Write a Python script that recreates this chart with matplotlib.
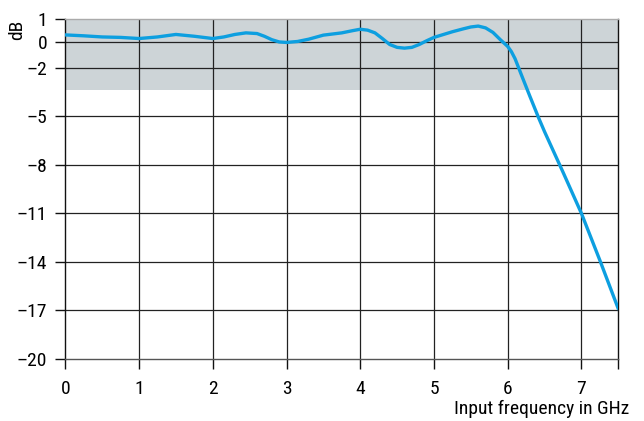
import numpy as np
import matplotlib
matplotlib.use("Agg")
import matplotlib.pyplot as plt

plt.rcParams["font.family"] = ["Liberation Sans Narrow", "Roboto Condensed",
                               "Liberation Sans", "DejaVu Sans"]

# frequency response
freq_ghz = [0.0, 0.25, 0.5, 0.75, 1.0, 1.25, 1.5, 1.75, 2.0, 2.15, 2.3, 2.45,
            2.6, 2.7, 2.8, 2.9, 3.0, 3.15, 3.3, 3.5, 3.75, 3.9, 4.0, 4.1,
            4.2, 4.3, 4.4, 4.5, 4.6, 4.7, 4.8, 4.9, 5.0, 5.25, 5.4, 5.5,
            5.6, 5.7, 5.8, 5.9, 6.0, 6.05, 6.1, 6.2, 6.3, 6.42, 6.5, 6.75,
            7.0, 7.25, 7.5]
gain_db = [0.31, 0.27, 0.22, 0.2, 0.15, 0.22, 0.33, 0.25, 0.15, 0.22, 0.33, 0.4,
           0.37, 0.25, 0.1, 0.0, -0.04, 0.02, 0.12, 0.3, 0.4, 0.5, 0.56, 0.52,
           0.4, 0.15, -0.2, -0.42, -0.48, -0.42, -0.2, 0.05, 0.2, 0.45, 0.58, 0.66,
           0.7, 0.62, 0.42, 0.1, -0.35, -0.75, -1.3, -2.6, -3.75, -5.1, -5.95, -8.45,
           -11.0, -13.9, -16.9]

y_ticks = [1, 0, -2, -5, -8, -11, -14, -17, -20]
x_ticks = [0, 1, 2, 3, 4, 5, 6, 7]
band_db = (-3.4, 1)

# axis is stretched above -2 dB on the original chart
_val = [-20, -2, 0, 1]
_pos = [-20, -2, -0.4, 1]


def fwd(v):
    v = np.asarray(v, dtype=float)
    return np.where(v < -2, v, np.interp(v, _val, _pos))


def inv(p):
    p = np.asarray(p, dtype=float)
    return np.where(p < -2, p, np.interp(p, _pos, _val))


fig = plt.figure(figsize=(6.44, 4.21), dpi=100)
ax = fig.add_axes([0.1014, 0.1473, 0.9601 - 0.1014, 0.9542 - 0.1473])
ax.set_yscale("function", functions=(fwd, inv))

ax.axhspan(*band_db, color="#cdd4d7", zorder=0, lw=0)
ax.plot(freq_ghz, gain_db, color="#0d9fe0", lw=2.4, zorder=3,
        solid_capstyle="round", solid_joinstyle="round")

ax.set_xlim(0, 7.5)
ax.set_ylim(-20, 1)
ax.set_xticks(x_ticks + [7.5])
ax.set_xticklabels([str(t) for t in x_ticks] + [""])
ax.set_yticks(y_ticks)
ax.set_yticklabels([str(t).replace("-", "\u2013") for t in y_ticks])
ax.yaxis.set_minor_locator(matplotlib.ticker.NullLocator())
ax.tick_params(axis="both", length=7, width=1, color="#111", labelsize=14)
ax.tick_params(axis="x", pad=8)
ax.tick_params(axis="y", pad=6)

for x in x_ticks[1:]:
    ax.axvline(x, color="#222", lw=0.9, zorder=1)
for y in y_ticks[1:-1]:
    ax.axhline(y, color="#222", lw=0.9, zorder=1)

ax.spines["top"].set_color("#aaaaaa")
ax.spines["bottom"].set_color("#555555")
ax.spines["left"].set_color("#111111")
ax.spines["right"].set_color("#111111")
for s in ax.spines.values():
    s.set_linewidth(1)

fig.text(17 / 644, 1 - 30 / 421, "dB", rotation=90, ha="center", va="center", fontsize=14)
fig.text(629 / 644, 1 - 409 / 421, "Input frequency in GHz", ha="right", va="center", fontsize=14)

fig.savefig("out.png", dpi=100)
